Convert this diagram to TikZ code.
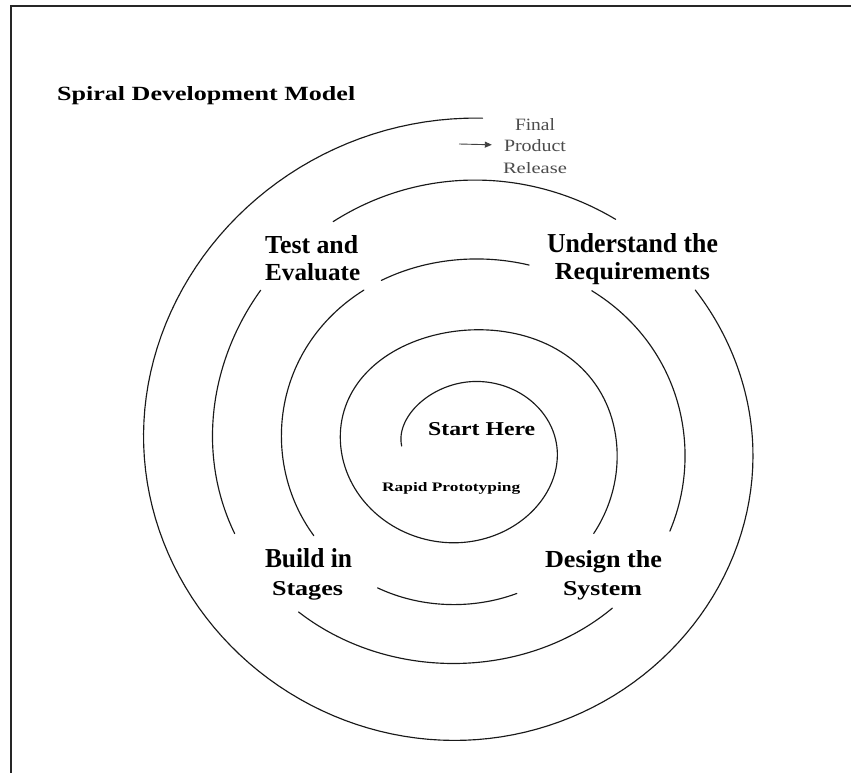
\documentclass[tikz,border=0pt]{standalone}
\usepackage{fontspec}
\usepackage{graphicx}
\setmainfont{Liberation Serif}
\usetikzlibrary{arrows.meta}

% text box of a given width and height (in pt), set bold or regular
\newcommand{\boxtxt}[3]{\resizebox{#1pt}{#2pt}{\bfseries #3}}
\newcommand{\boxlight}[3]{\resizebox{#1pt}{#2pt}{#3}}

% one quarter turn of the spiral between angles #1 and #2 (degrees, clockwise
% from the left), with small hand-drawn offsets #3 (sideways) and #4 (up/down);
% \qp starts a piece, \qpn continues it
\newcommand{\qp}[4]{plot[domain=#1:#2, samples=40, variable=\t] ({465-(58.3+0.18056*\t)*cos(\t)+(#3)*cos(\t)^2}, {446-(45.5+0.18056*\t)*sin(\t)+(#4)*sin(\t)^2})}
\newcommand{\qpn}[4]{-- plot[domain=#1:#2, samples=40, variable=\t] ({465-(58.3+0.18056*\t)*cos(\t)+(#3)*cos(\t)^2}, {446-(45.5+0.18056*\t)*sin(\t)+(#4)*sin(\t)^2})}

\begin{document}
\begin{tikzpicture}[x=1pt,y=-1pt,
  frameline/.style={line width=1.4pt, black!85},
  spiralline/.style={line width=1.15pt, black!90, line cap=round, line join=round},
  lbl/.style={inner sep=0pt, anchor=base west, text=black},
  notes/.style={inner sep=0pt, anchor=base, text=black!70},
  releasearrow/.style={line width=0.9pt, black!75, -{Triangle[length=7pt,width=6pt]}}]

\useasboundingbox (0,0) rectangle (851,773);
\fill[white] (0,0) rectangle (851,773);

% page frame: top and left rules
\coordinate (fbl) at (11,773);
\coordinate (ftl) at (11,6);
\coordinate (ftr) at (851,6);
\draw[frameline] (fbl) -- (ftl) -- (ftr);

% spiral, drawn clockwise from the centre, broken where the labels sit
\draw[spiralline] \qp{0}{90}{-5}{-2} \qpn{90}{180}{1}{-2} \qpn{180}{270}{1}{2}
  \qpn{270}{360}{-1}{2} \qpn{360}{450}{-1}{11} \qpn{450}{540}{-4}{11}
  \qpn{540}{576}{-4}{-1};
\draw[spiralline] \qp{612}{630}{-4}{-1} \qpn{630}{660}{5}{-1};
\draw[spiralline] \qp{688}{720}{5}{-1} \qpn{720}{779}{5}{5};
\draw[spiralline] \qp{785}{810}{5}{5} \qpn{810}{828}{-1}{5};
\draw[spiralline] \qp{847}{900}{-1}{5} \qpn{900}{924}{-1}{-7};
\draw[spiralline] \qp{950}{990}{-1}{-7} \qpn{990}{1033}{1}{-7};
\draw[spiralline] \qp{1058}{1080}{1}{-7} \qpn{1080}{1118}{1}{-9};
\draw[spiralline] \qp{1140}{1170}{1}{-9} \qpn{1170}{1203}{2}{-9};
\draw[spiralline] \qp{1225}{1260}{2}{-9} \qpn{1260}{1350}{2}{5}
  \qpn{1350}{1440}{-3}{5} \qpn{1440}{1530}{-3}{-6} \qpn{1530}{1533}{0}{-6};

% title
\node[lbl] (title) at (57,101) {\boxtxt{298}{14}{Spiral Development Model}};

% end of the spiral
\node[notes] (final)   at (535,130) {\boxlight{40}{12}{Final}};
\node[notes] (product) at (535,151) {\boxlight{62}{12}{Product}};
\node[notes] (release) at (535,173) {\boxlight{64}{11}{Release}};
\coordinate (arrowtail) at (459,144);
\draw[releasearrow, shorten >=12pt] (arrowtail) -- (product.west);

% phase labels
\node[lbl] (test1) at (265,253) {\boxtxt{93}{18}{Test and}};
\node[lbl] (test2) at (265,280) {\boxtxt{95}{17}{Evaluate}};

\node[lbl, anchor=base] (under1) at (632.5,252) {\boxtxt{171}{19}{Understand the}};
\node[lbl, anchor=base] (under2) at (632.5,279) {\boxtxt{155}{17}{Requirements}};

\node[lbl, anchor=base] (design1) at (603.5,567) {\boxtxt{117}{17}{Design the}};
\node[lbl, anchor=base] (design2) at (602.5,595) {\boxtxt{79}{14}{System}};

\node[lbl, anchor=base] (build1) at (308.5,567) {\boxtxt{87}{19}{Build in}};
\node[lbl, anchor=base] (build2) at (307.5,595) {\boxtxt{71}{14}{Stages}};

% centre
\node[lbl] (start) at (428,435) {\boxtxt{107}{13}{Start Here}};
\node[lbl] (rapid) at (382,491) {\boxtxt{138}{9}{Rapid Prototyping}};

\end{tikzpicture}
\end{document}
